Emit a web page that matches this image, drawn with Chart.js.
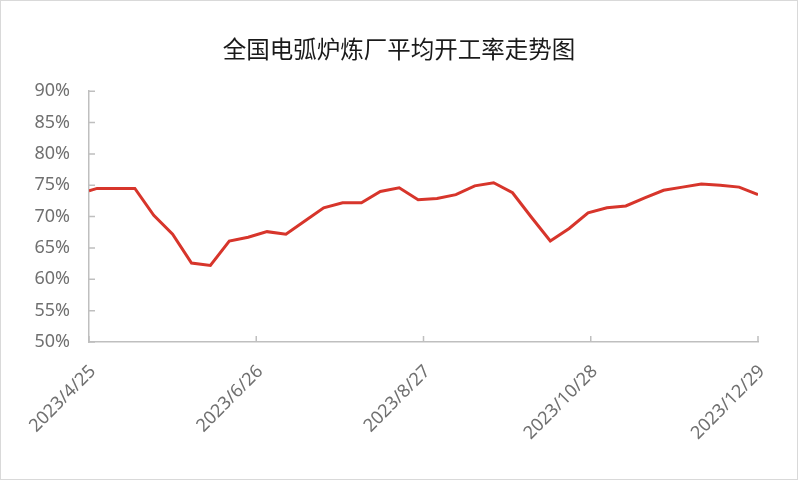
<!DOCTYPE html>
<html>
<head>
<meta charset="utf-8">
<script src="https://cdn.jsdelivr.net/npm/chart.js@4.4.0/dist/chart.umd.min.js"></script>
<style>
  body { margin: 0; background: #fff; }
  #wrap { width: 798px; height: 480px; }
</style>
</head>
<body>
<div id="wrap"><canvas id="chart" width="798" height="480"></canvas></div>
<script>
const title = '全国电弧炉炼厂平均开工率走势图';

// weekly readings (first point is the start date, then Fridays)
const dates = [
  '2023/4/25', '2023/4/28', '2023/5/5', '2023/5/12', '2023/5/19', '2023/5/26',
  '2023/6/2', '2023/6/9', '2023/6/16', '2023/6/23', '2023/6/30',
  '2023/7/7', '2023/7/14', '2023/7/21', '2023/7/28',
  '2023/8/4', '2023/8/11', '2023/8/18', '2023/8/25',
  '2023/9/1', '2023/9/8', '2023/9/15', '2023/9/22', '2023/9/29',
  '2023/10/6', '2023/10/13', '2023/10/20', '2023/10/27',
  '2023/11/3', '2023/11/10', '2023/11/17', '2023/11/24',
  '2023/12/1', '2023/12/8', '2023/12/15', '2023/12/22', '2023/12/29'
];
const rates = [
  74.1, 74.5, 74.5, 74.5, 70.2, 67.2,
  62.6, 62.2, 66.1, 66.7, 67.6,
  67.2, 69.3, 71.4, 72.2,
  72.2, 74.0, 74.6, 72.7,
  72.9, 73.5, 74.9, 75.4, 73.8,
  69.9, 66.1, 68.1, 70.6,
  71.4, 71.7, 73.0, 74.2,
  74.7, 75.2, 75.0, 74.7, 73.5
];
const xTickLabels = ['2023/4/25', '2023/6/26', '2023/8/27', '2023/10/28', '2023/12/29'];
const yTicks = [50, 55, 60, 65, 70, 75, 80, 85, 90];

function dayNum(s) {
  const p = s.split('/').map(Number);
  return Date.UTC(p[0], p[1] - 1, p[2]) / 86400000;
}
const day0 = dayNum(dates[0]);
const points = dates.map((d, i) => ({ x: dayNum(d) - day0, y: rates[i] }));
const xTickVals = xTickLabels.map(d => dayNum(d) - day0);

const axisColor = '#bfbfbf';
const labelColor = '#707070';
const tickFont = { family: '"Noto Sans", sans-serif', size: 18 };

// white background + outer frame + inside tick marks like Excel
const frame = {
  id: 'frame',
  beforeDraw(chart) {
    const c = chart.ctx;
    c.save();
    c.fillStyle = '#fff';
    c.fillRect(0, 0, chart.width, chart.height);
    c.restore();
  },
  afterDraw(chart) {
    const c = chart.ctx;
    const xs = chart.scales.x, ys = chart.scales.y;
    c.save();
    c.strokeStyle = axisColor;
    c.lineWidth = 1.5;
    c.beginPath();
    xs.ticks.forEach((t, i) => {
      const px = xs.getPixelForTick(i);
      c.moveTo(px, ys.bottom);
      c.lineTo(px, ys.bottom - 6);
    });
    ys.ticks.forEach((t, i) => {
      const py = ys.getPixelForTick(i);
      c.moveTo(xs.left, py);
      c.lineTo(xs.left + 6, py);
    });
    c.stroke();
    c.strokeStyle = '#d9d9d9';
    c.lineWidth = 1;
    c.strokeRect(0.5, 0.5, chart.width - 1, chart.height - 1);
    c.restore();
  }
};

const ctx = document.getElementById('chart').getContext('2d');
new Chart(ctx, {
  type: 'line',
  data: {
    datasets: [{
      label: '开工率',
      data: points,
      borderColor: '#d7352b',
      borderWidth: 3,
      pointRadius: 0,
      tension: 0,
      fill: false
    }]
  },
  options: {
    responsive: false,
    animation: false,
    layout: { padding: 0 },
    plugins: {
      legend: { display: false },
      tooltip: { enabled: false },
      title: {
        display: true,
        text: title,
        color: '#1a1a1a',
        font: { family: '"Noto Sans CJK SC", sans-serif', size: 23.5, weight: 'normal' },
        padding: { top: 35, bottom: 28 }
      }
    },
    scales: {
      x: {
        type: 'linear',
        min: 0,
        max: xTickVals[xTickVals.length - 1],
        afterBuildTicks(scale) {
          scale.ticks = xTickVals.map(v => ({ value: v }));
        },
        afterFit(scale) { scale.height = 138; },
        grid: { display: false, drawTicks: false, tickLength: 0 },
        border: { color: axisColor, width: 1.5 },
        ticks: {
          autoSkip: false,
          minRotation: 45,
          maxRotation: 45,
          padding: 19,
          labelOffset: 4,
          color: labelColor,
          font: tickFont,
          callback(value) {
            const i = xTickVals.indexOf(value);
            return i >= 0 ? xTickLabels[i] : '';
          }
        }
      },
      y: {
        min: yTicks[0],
        max: yTicks[yTicks.length - 1],
        afterBuildTicks(scale) {
          scale.ticks = yTicks.map(v => ({ value: v }));
        },
        afterFit(scale) { scale.width = 89; },
        grid: { display: false, drawTicks: false, tickLength: 0 },
        border: { color: axisColor, width: 1.5 },
        ticks: {
          padding: 19,
          color: labelColor,
          font: tickFont,
          callback: v => v + '%'
        }
      },
      // empty right-hand box so the plot ends at the same place as the original
      spacer: {
        position: 'right',
        min: 0,
        max: 1,
        afterFit(scale) { scale.width = 40; },
        grid: { display: false, drawTicks: false },
        border: { display: false },
        ticks: { display: false }
      }
    }
  },
  plugins: [frame]
});
</script>
</body>
</html>
